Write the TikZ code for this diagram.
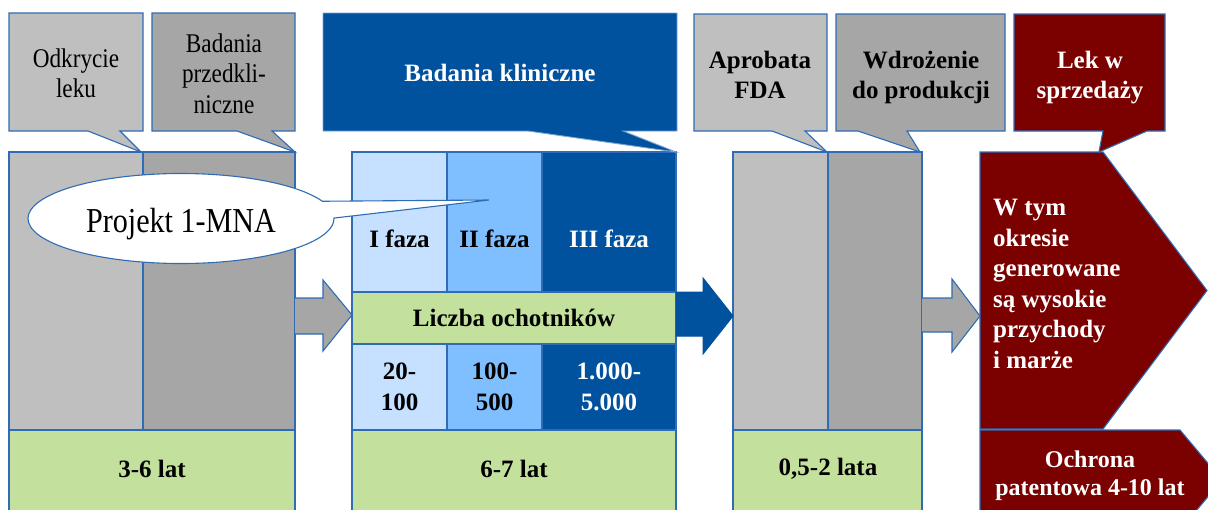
\documentclass[tikz,border=0pt]{standalone}
\usepackage{fontspec}
\setmainfont{Liberation Serif}
\newfontfamily\narrowserif{Liberation Serif}[FakeStretch=0.86]
\usetikzlibrary{shapes.callouts}
\definecolor{bord}{RGB}{47,108,181}
\definecolor{lgray}{RGB}{191,191,191}
\definecolor{dgray}{RGB}{166,166,166}
\definecolor{dblue}{RGB}{0,81,158}
\definecolor{lblue}{RGB}{197,225,255}
\definecolor{mblue}{RGB}{128,191,255}
\definecolor{lgreen}{RGB}{195,225,156}
\definecolor{dred}{RGB}{123,0,0}
\definecolor{lightedge}{RGB}{120,165,215}
\begin{document}
\begin{tikzpicture}[x=1pt,y=-1pt,
  cell/.style={draw=bord, line width=1.1pt, inner sep=0pt, outer sep=0pt, align=center,
               font=\fontsize{25}{31}\selectfont\bfseries},
  shapeline/.style={draw=bord, line width=1.1pt, line join=miter},
  bt/.style={font=\fontsize{25}{30}\selectfont\bfseries, align=center, inner sep=0pt},
  rt/.style={font=\narrowserif\fontsize{27}{30.5}\selectfont, align=center, inner sep=0pt},
]
\useasboundingbox (0,0) rectangle (1208,509);
\clip (0,0) rectangle (1208,509);

% ---- left block
\node[cell, fill=lgray, minimum width=134, minimum height=278] (odk) at (76,291) {};
\node[cell, fill=dgray, minimum width=152, minimum height=278] (prz) at (219,291) {};
\node[cell, fill=lgreen, minimum width=286, minimum height=100] (g1) at (152,480) {};
\node[bt] (t1) at (152,469) {3-6 lat};

% ---- middle block
\node[cell, fill=lblue, minimum width=95, minimum height=140] (f1) at (399.5,222) {};
\node[cell, fill=mblue, minimum width=95, minimum height=140] (f2) at (494.5,222) {};
\node[cell, fill=dblue, minimum width=134, minimum height=140] (f3) at (609,222) {};
\node[bt] (f1t) at (399.5,238.5) {I faza};
\node[bt] (f2t) at (494.5,238.5) {II faza};
\node[bt, text=white] (f3t) at (609,238.5) {III faza};
\node[cell, fill=lgreen, minimum width=324, minimum height=52] (licz) at (514,318) {Liczba ochotników};
\node[cell, fill=lblue, minimum width=95, minimum height=86] (n1) at (399.5,387) {20-\\100};
\node[cell, fill=mblue, minimum width=95, minimum height=86] (n2) at (494.5,387) {100-\\500};
\node[cell, fill=dblue, minimum width=134, minimum height=86, text=white] (n3) at (609,387) {1.000-\\5.000};
\node[cell, fill=lgreen, minimum width=324, minimum height=100] (g2) at (514,480) {};
\node[bt] (t2) at (514,469) {6-7 lat};

% ---- right gray block
\node[cell, fill=lgray, minimum width=95, minimum height=278] (fda) at (780.5,291) {};
\node[cell, fill=dgray, minimum width=94, minimum height=278] (wdr) at (875,291) {};
\node[cell, fill=lgreen, minimum width=189, minimum height=100] (g3) at (827.5,480) {};
\node[bt] (t3) at (828,469) {0,5-2 lata};

% ---- red pentagons
\draw[shapeline, fill=dred] (980,152) -- (1103,152) -- (1207,290.5) -- (1103,429) -- (980,429) -- cycle;
\node[bt, text=white, align=left, anchor=west, font=\fontsize{25}{30.6}\selectfont\bfseries] (sale) at (993,284)
  {W tym\\okresie\\generowane\\są wysokie\\przychody\\i marże};
\draw[shapeline, fill=dred] (980,430) -- (1180,430) -- (1222,480) -- (1180,530) -- (980,530) -- cycle;
\node[bt, text=white, font=\fontsize{24}{28}\selectfont\bfseries] (patent) at (1090,475.4)
  {Ochrona\\patentowa 4-10 lat};

% ---- block arrows
\draw[shapeline, fill=dgray] (295,298) -- (323,298) -- (323,280) -- (352,315) -- (323,351) -- (323,334) -- (295,334);
\draw[line width=1pt, draw=dblue, fill=dblue] (676,292) -- (703,292) -- (703,278) -- (733,316) -- (703,354) -- (703,336) -- (676,336) -- cycle;
\draw[shapeline, fill=dgray] (922,298) -- (952,298) -- (952,279) -- (980,316) -- (952,352) -- (952,332) -- (922,332);

% ---- callouts
\draw[shapeline, fill=lgray] (9,13) -- (143,13) -- (143,131) -- (120,131) -- (141,152) -- (88,131) -- (9,131) -- cycle;
\node[rt] (c1) at (76,73.3) {Odkrycie\\leku};
\draw[shapeline, fill=dgray] (152,13) -- (295,13) -- (295,131) -- (272,131) -- (295,152) -- (237,131) -- (152,131) -- cycle;
\node[rt] (c2) at (224,73.3) {Badania\\przedkli-\\niczne};
\draw[line width=0.9pt, draw=lightedge, fill=dblue, line join=miter] (323,13) -- (677,13) -- (677,131) -- (623,131) -- (676,152) -- (528,131) -- (323,131) -- cycle;
\node[bt, text=white] (c3) at (500,73.4) {Badania kliniczne};
\draw[shapeline, fill=lgray] (694,14) -- (827,14) -- (827,131) -- (805,131) -- (827,152) -- (772,131) -- (694,131) -- cycle;
\node[bt] (c4) at (760,74.4) {Aprobata\\FDA};
\draw[shapeline, fill=dgray] (836,14) -- (1005,14) -- (1005,131) -- (907,131) -- (920,152) -- (858,131) -- (836,131) -- cycle;
\node[bt] (c5) at (921,77.1) {Wdrożenie\\do produkcji};
\draw[shapeline, fill=dred] (1014,14) -- (1165,14) -- (1165,131) -- (1147,131) -- (1099,152) -- (1103,131) -- (1014,131) -- cycle;
\node[bt, text=white] (c6) at (1090,77.1) {Lek w\\sprzedaży};

% ---- ellipse callout
\node[shape=ellipse callout, draw=bord, line width=1.1pt, fill=white, minimum width=306, minimum height=90,
      callout absolute pointer={(489,200)}, callout pointer arc=22] (proj) at (181,218.5) {};
\node[font=\narrowserif\fontsize{35}{40}\selectfont, inner sep=0pt, anchor=base] (projt) at (181,232) {Projekt 1-MNA};
\end{tikzpicture}
\end{document}
